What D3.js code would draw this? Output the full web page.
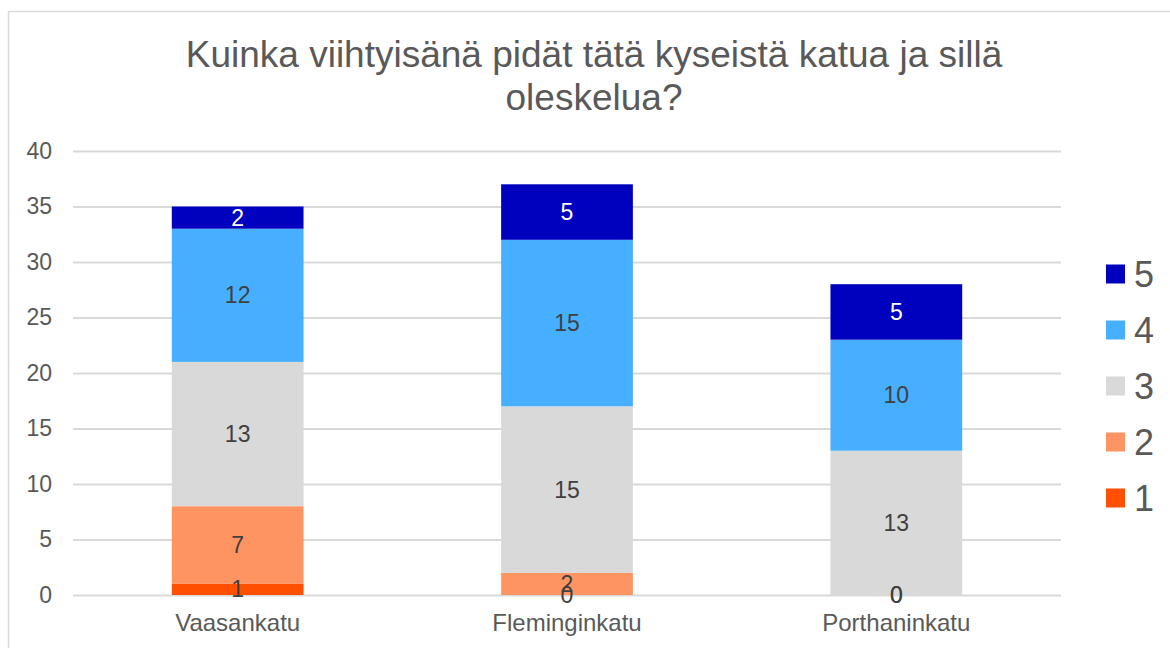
<!DOCTYPE html>
<html>
<head>
<meta charset="utf-8">
<script src="https://cdn.jsdelivr.net/npm/d3@7"></script>
<style>
  body { margin: 0; background: #fff; }
  svg { display: block; font-family: Arial, "Liberation Sans", sans-serif; }
</style>
</head>
<body>
<div id="chart"></div>
<script>
// chart data
var categories = ["Vaasankatu", "Fleminginkatu", "Porthaninkatu"];
var levels = ["1", "2", "3", "4", "5"];
var level1 = [1, 0, 0];
var level2 = [7, 2, 0];
var level3 = [13, 15, 13];
var level4 = [12, 15, 10];
var level5 = [2, 5, 5];
var yTicks = [0, 5, 10, 15, 20, 25, 30, 35, 40];
var colors = ["#FF5000", "#FF9463", "#D9D9D9", "#47AFFF", "#0000BF"];
var title = ["Kuinka viihtyisänä pidät tätä kyseistä katua ja sillä", "oleskelua?"];

var width = 1170, height = 648;
var plot = { left: 73, right: 1061, top: 151, bottom: 595 };

var series = [level1, level2, level3, level4, level5];
var rows = categories.map(function (c, i) {
    var r = { cat: c };
    levels.forEach(function (l, j) { r[l] = series[j][i]; });
    return r;
});

var svg = d3.select("#chart").append("svg")
    .attr("width", width)
    .attr("height", height);

// outer border of chart area
svg.append("rect")
    .attr("x", 8.5).attr("y", 11.5)
    .attr("width", 1200).attr("height", 700)
    .attr("fill", "none")
    .attr("stroke", "#D9D9D9")
    .attr("stroke-width", 1.5);

var x = d3.scaleBand()
    .domain(categories)
    .range([plot.left, plot.right])
    .paddingInner(0.6)
    .paddingOuter(0.3);

var y = d3.scaleLinear()
    .domain([0, 40])
    .range([plot.bottom, plot.top]);

// gridlines
svg.append("g")
    .attr("class", "grid")
    .attr("transform", "translate(" + plot.left + ",0)")
    .call(d3.axisLeft(y).tickValues(yTicks).tickSize(-(plot.right - plot.left)).tickFormat(""))
    .call(function (g) { g.select(".domain").remove(); })
    .selectAll("line")
        .attr("stroke", "#D9D9D9")
        .attr("stroke-width", 2);

// y labels
svg.append("g")
    .attr("transform", "translate(" + plot.left + ",0)")
    .call(d3.axisLeft(y).tickValues(yTicks).tickSize(0).tickPadding(21))
    .call(function (g) { g.select(".domain").remove(); })
    .selectAll("text")
        .attr("font-size", 23)
        .attr("font-family", "Arial, 'Liberation Sans', sans-serif")
        .attr("fill", "#595959");

var stacked = d3.stack().keys(levels)(rows);

var layers = svg.selectAll("g.layer")
    .data(stacked)
    .enter()
    .append("g")
        .attr("class", "layer")
        .attr("fill", function (d, i) { return colors[i]; });

layers.selectAll("rect")
    .data(function (d) { return d; })
    .enter()
    .append("rect")
        .attr("x", function (d) { return x(d.data.cat); })
        .attr("width", x.bandwidth())
        .attr("y", function (d) { return y(d[1]); })
        .attr("height", function (d) { return y(d[0]) - y(d[1]); });

// data labels
stacked.forEach(function (layer, i) {
    svg.append("g").selectAll("text")
        .data(layer)
        .enter()
        .append("text")
            .attr("x", function (d) { return x(d.data.cat) + x.bandwidth() / 2; })
            .attr("y", function (d) { return y((d[0] + d[1]) / 2); })
            .attr("text-anchor", "middle")
            .attr("dominant-baseline", "central")
            .attr("font-size", 23)
            .attr("fill", i === 4 ? "#FFFFFF" : "#404040")
            .text(function (d) { return d[1] - d[0]; });
});

// category labels
svg.append("g").selectAll("text")
    .data(categories)
    .enter()
    .append("text")
        .attr("x", function (d) { return x(d) + x.bandwidth() / 2; })
        .attr("y", 631)
        .attr("text-anchor", "middle")
        .attr("font-size", 24)
        .attr("fill", "#595959")
        .text(function (d) { return d; });

// title
svg.append("text")
    .attr("x", 594)
    .attr("y", 67)
    .attr("text-anchor", "middle")
    .attr("font-size", 37)
    .attr("fill", "#595959")
    .selectAll("tspan")
    .data(title)
    .enter()
    .append("tspan")
        .attr("x", 594)
        .attr("dy", function (d, i) { return i === 0 ? 0 : 43; })
        .text(function (d) { return d; });

// legend, top entry is 5
var legend = svg.append("g").selectAll("g")
    .data(levels.slice().reverse())
    .enter()
    .append("g")
        .attr("transform", function (d, i) { return "translate(1106," + (274 + i * 56) + ")"; });

legend.append("rect")
    .attr("x", 0).attr("y", -9.5)
    .attr("width", 19).attr("height", 19)
    .attr("fill", function (d) { return colors[levels.indexOf(d)]; });

legend.append("text")
    .attr("x", 28)
    .attr("y", 0)
    .attr("dominant-baseline", "central")
    .attr("font-size", 36)
    .attr("fill", "#595959")
    .text(function (d) { return d; });
</script>
</body>
</html>
